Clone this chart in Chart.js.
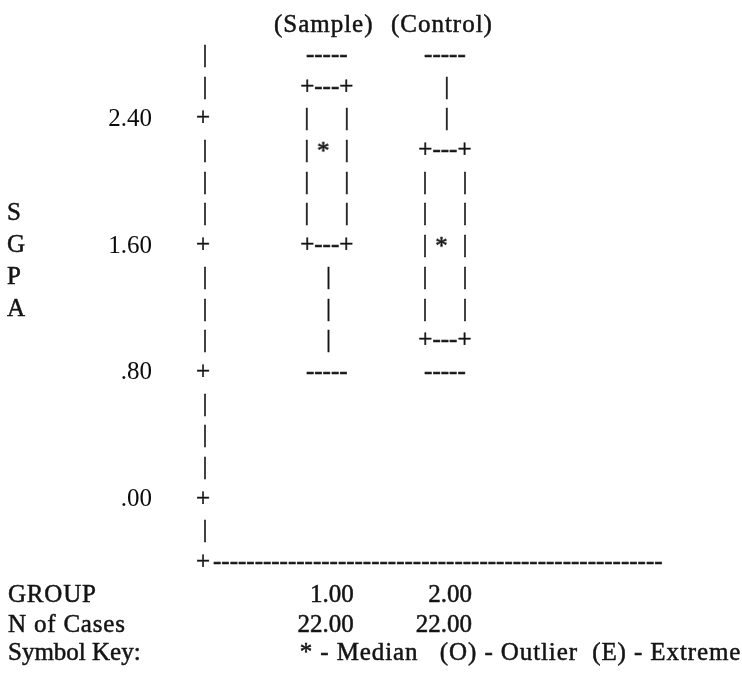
<!DOCTYPE html>
<html><head><meta charset="utf-8">
<script src="https://cdn.jsdelivr.net/npm/chart.js@4/dist/chart.umd.min.js"></script>
<style>html,body{margin:0;padding:0;background:#fff}#wrap{width:742px;height:674px;position:relative}</style>
</head><body><div id="wrap"><canvas id="c" width="742" height="674"></canvas></div>
<script>
// ---- data ----
const groups = [1, 2];
const groupNames = ['(Sample)', '(Control)'];
const groupLabels = ['1.00', '2.00'];
const nCases = ['22.00', '22.00'];
const maxs = [2.8, 2.8];
const q3s = [2.6, 2.2];
const medians = [2.2, 1.6];
const q1s = [1.6, 1.0];
const mins = [0.8, 0.8];
const yTicks = [0, 0.8, 1.6, 2.4];
const yTitle = ['S', 'G', 'P', 'A'];
const symbolKey = '* - Median   (O) - Outlier  (E) - Extreme';

// ---- style ----
const FAMILY = '"Liberation Serif", "Times New Roman", serif';
const FONT = '25px ' + FAMILY;
const INK = '#141414';
const ROW = 0.2;

function fmt(v) {
  let s = v.toFixed(2);
  if (s.startsWith('0')) s = s.slice(1);
  return s;
}

function starImage() {
  const c = document.createElement('canvas');
  c.width = 30; c.height = 30;
  const g = c.getContext('2d');
  g.font = FONT; g.fillStyle = INK; g.strokeStyle = INK; g.lineWidth = 0.5;
  g.textAlign = 'center'; g.textBaseline = 'alphabetic';
  g.fillText('*', 11.5, 22.6); g.strokeText('*', 11.5, 22.6);
  return c;
}

const asciiBox = {
  id: 'asciiBox',
  afterDraw(chart) {
    const ctx = chart.ctx, xs = chart.scales.x, ys = chart.scales.y, a = chart.chartArea;
    ctx.save();
    ctx.font = FONT; ctx.fillStyle = INK; ctx.strokeStyle = INK; ctx.lineWidth = 0.5;
    ctx.textBaseline = 'alphabetic';
    const txt = (s, x, y, align) => {
      ctx.textAlign = align || 'left';
      ctx.fillText(s, x, y); ctx.strokeText(s, x, y);
    };
    const put = (ch, x, v, align) => txt(ch, x, ys.getPixelForValue(v) + 6, align || 'center');
    const kMax = Math.round(ys.max / ROW), kMin = Math.round(ys.min / ROW);
    const tickK = yTicks.map(v => Math.round(v / ROW));
    // vertical axis column
    for (let k = kMax; k > kMin; k--) {
      const isTick = tickK.includes(k);
      put(isTick ? '+' : '|', a.left - (isTick ? 2 : 0), k * ROW);
    }
    // bottom corner + dashed baseline
    put('+', a.left - 2, kMin * ROW);
    const dw = ctx.measureText('-').width;
    const n = Math.round((a.right - (a.left + 8)) / dw);
    txt('-'.repeat(n), a.left + 8, ys.getPixelForValue(kMin * ROW) + 6);
    // boxes
    groups.forEach((gv, i) => {
      const cx = xs.getPixelForValue(gv);
      const kx = Math.round(maxs[i] / ROW), k3 = Math.round(q3s[i] / ROW);
      const k1 = Math.round(q1s[i] / ROW), kn = Math.round(mins[i] / ROW);
      for (let k = kx; k >= kn; k--) {
        const v = k * ROW;
        if (k === kx || k === kn) put('-----', cx, v);
        else if (k === k3 || k === k1) put('+---+', cx, v);
        else if (k < kx && k > k3) put('|', cx + 1.8, v);
        else if (k < k1 && k > kn) put('|', cx + 1.8, v);
        else { put('|', cx - 20, v); put('|', cx + 20, v); }
      }
    });
    // labels (slightly wider text as in the scan)
    ctx.letterSpacing = '1px';
    groups.forEach((gv, i) => {
      const cx = xs.getPixelForValue(gv);
      txt(groupNames[i], cx - 3, a.top - 24, 'center');
    });
    ctx.letterSpacing = '0px';
    groups.forEach((gv, i) => {
      const cx = xs.getPixelForValue(gv);
      txt(groupLabels[i], cx + 27, a.bottom + 39, 'right');
      txt(nCases[i], cx + 27, a.bottom + 69, 'right');
    });
    // vertical title
    yTitle.forEach((ch, i) => {
      txt(ch, 7, ys.getPixelForValue(1.8 - i * ROW) + 6);
    });
    // bottom table
    ctx.letterSpacing = '0.8px';
    txt('GROUP', 8, a.bottom + 39);
    txt('N of Cases', 8, a.bottom + 69);
    ctx.letterSpacing = '0px';
    txt('Symbol Key:', 8, a.bottom + 97);
    ctx.letterSpacing = '0.9px';
    txt(symbolKey, xs.getPixelForValue(groups[0]) - 27, a.bottom + 97);
    ctx.restore();
  }
};

new Chart(document.getElementById('c'), {
  type: 'scatter',
  data: {
    datasets: [{
      label: 'Median',
      data: groups.map((g, i) => ({ x: g, y: medians[i] })),
      pointStyle: starImage(),
      pointRadius: 10
    }]
  },
  options: {
    responsive: false,
    animation: false,
    events: [],
    layout: { padding: { left: 0, right: 82, top: 56, bottom: 111 } },
    plugins: { legend: { display: false }, tooltip: { enabled: false } },
    scales: {
      x: { type: 'linear', display: false, min: -0.03, max: 3.82 },
      y: {
        type: 'linear', min: -0.4, max: 2.8,
        afterBuildTicks(s) { s.ticks = yTicks.map(v => ({ value: v })); },
        afterFit(s) { s.width = 205; s.paddingTop = 0; s.paddingBottom = 0; },
        grid: { display: false, drawTicks: false },
        border: { display: false },
        ticks: {
          padding: 53, color: '#0a0a0a',
          font: { family: FAMILY, size: 25 },
          callback: v => fmt(v)
        }
      }
    }
  },
  plugins: [asciiBox]
});
</script>
</body></html>
